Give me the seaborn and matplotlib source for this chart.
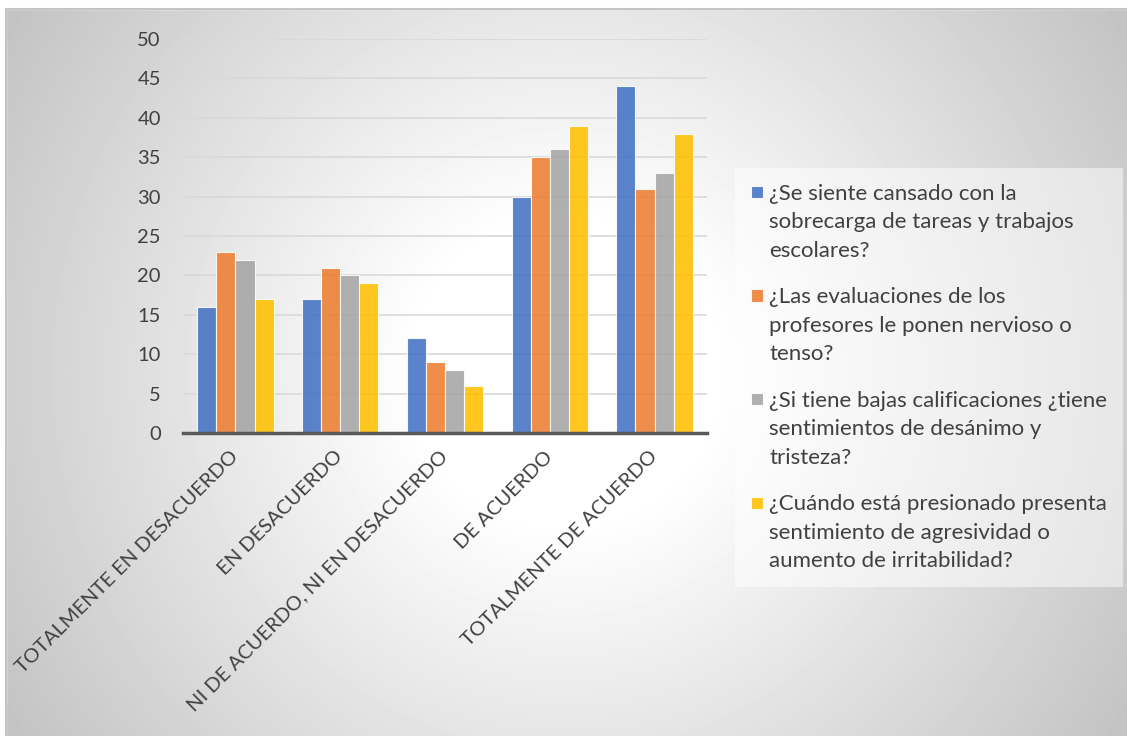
import numpy as np
import pandas as pd
import matplotlib
matplotlib.use('Agg')
import matplotlib.pyplot as plt
import seaborn as sns
from matplotlib.patches import Rectangle
from matplotlib.legend_handler import HandlerPatch

# datos de la encuesta
categorias = ['TOTALMENTE EN DESACUERDO', 'EN DESACUERDO', 'NI DE ACUERDO, NI EN DESACUERDO',
              'DE ACUERDO', 'TOTALMENTE DE ACUERDO']
preguntas = ['¿Se siente cansado con la\nsobrecarga de tareas y trabajos\nescolares?',
             '¿Las evaluaciones de los\nprofesores le ponen nervioso o\ntenso?',
             '¿Si tiene bajas calificaciones ¿tiene\nsentimientos de desánimo y\ntristeza?',
             '¿Cuándo está presionado presenta\nsentimiento de agresividad o\naumento de irritabilidad?']
cansado = [16, 17, 12, 30, 44]
evaluaciones = [23, 21, 9, 35, 31]
calificaciones = [22, 20, 8, 36, 33]
presionado = [17, 19, 6, 39, 38]
colores = ['#4472C4', '#ED7D31', '#A5A5A5', '#FFC000']

filas = []
for p, vals in zip(preguntas, [cansado, evaluaciones, calificaciones, presionado]):
    for c, v in zip(categorias, vals):
        filas.append({'categoria': c, 'pregunta': p, 'valor': v})
df = pd.DataFrame(filas)

sns.set_style('white')
plt.rcParams['font.family'] = ['Lato', 'DejaVu Sans']

W, H = 1127, 736
fig = plt.figure(figsize=(W / 100, H / 100), dpi=100)

# fondo con degradado radial
bg = fig.add_axes([0, 0, 1, 1], zorder=-10)
yy, xx = np.mgrid[0:H, 0:W]
r = np.hypot(xx - 566, yy - 372)
v = 1 - 0.24 * np.clip((r - 150) / 520, 0, 1.05)
bg.imshow(v, cmap='gray', vmin=0, vmax=1, extent=[0, W, H, 0], aspect='auto', interpolation='bilinear')
bg.add_patch(Rectangle((0, 0), 6, H, color='white'))
bg.add_patch(Rectangle((0, 0), W, 9, color='white'))
bg.plot([6, 6, W], [H, 9, 9], color='#c4c4c4', lw=1.5)
bg.set_xlim(0, W)
bg.set_ylim(H, 0)
bg.axis('off')

ax = fig.add_axes([183 / W, 1 - 433 / H, (707 - 183) / W, (433 - 39) / H])
ax.set_facecolor('none')
sns.barplot(data=df, x='categoria', y='valor', hue='pregunta', palette=colores, width=0.73,
            saturation=1, alpha=0.88, edgecolor='white', linewidth=0.8, ax=ax, zorder=3)

ax.set_ylim(0, 50)
ax.set_xlim(-0.5, 4.5)
ax.set_yticks(range(0, 51, 5))
ax.grid(axis='y', color='#d9d9d9', lw=1.2, zorder=0)
ax.set_axisbelow(True)
for s in ['top', 'right', 'left']:
    ax.spines[s].set_visible(False)
ax.spines['bottom'].set_color('#595959')
ax.spines['bottom'].set_linewidth(2.5)
ax.spines['bottom'].set_zorder(5)

ax.set_xticks(range(5), categorias, rotation=45, ha='right', va='center', rotation_mode='anchor')
ax.set_xticks(np.arange(-0.5, 5, 1), minor=True)
ax.tick_params(axis='x', which='major', length=0, pad=15, labelsize=14.5, labelcolor='#404040')
ax.tick_params(axis='x', which='minor', length=7, width=2.5, color='#595959', direction='out')
ax.tick_params(axis='y', length=0, pad=16, labelsize=14.5, labelcolor='#404040')
ax.set_xlabel('')
ax.set_ylabel('')

# cuadrado de la leyenda alineado con la primera linea
FS = 16
LS = 1.53


def cuadro_arriba(legend, orig_handle, xdescent, ydescent, width, height, fontsize):
    lado = 0.55 * fontsize
    y0 = -ydescent + LS * 0.85 * fontsize + 1.0 + (height - lado) / 2
    return Rectangle((-xdescent, y0), lado, lado)


handles, labels = ax.get_legend_handles_labels()
ax.get_legend().remove()
leg = fig.legend(handles, labels, loc='upper left', bbox_to_anchor=(735 / W, 1 - 168 / H),
                 frameon=True, fontsize=FS, labelspacing=1.2, handlelength=0.55, handleheight=0.55,
                 handletextpad=0.3, borderpad=0.7, borderaxespad=0, fancybox=False,
                 handler_map={h: HandlerPatch(patch_func=cuadro_arriba) for h in handles})
leg.get_frame().set_facecolor('white')
leg.get_frame().set_alpha(0.5)
leg.get_frame().set_edgecolor('none')
for t in leg.get_texts():
    t.set_color('#404040')
    t.set_linespacing(LS)

fig.savefig('out.png', dpi=100)
